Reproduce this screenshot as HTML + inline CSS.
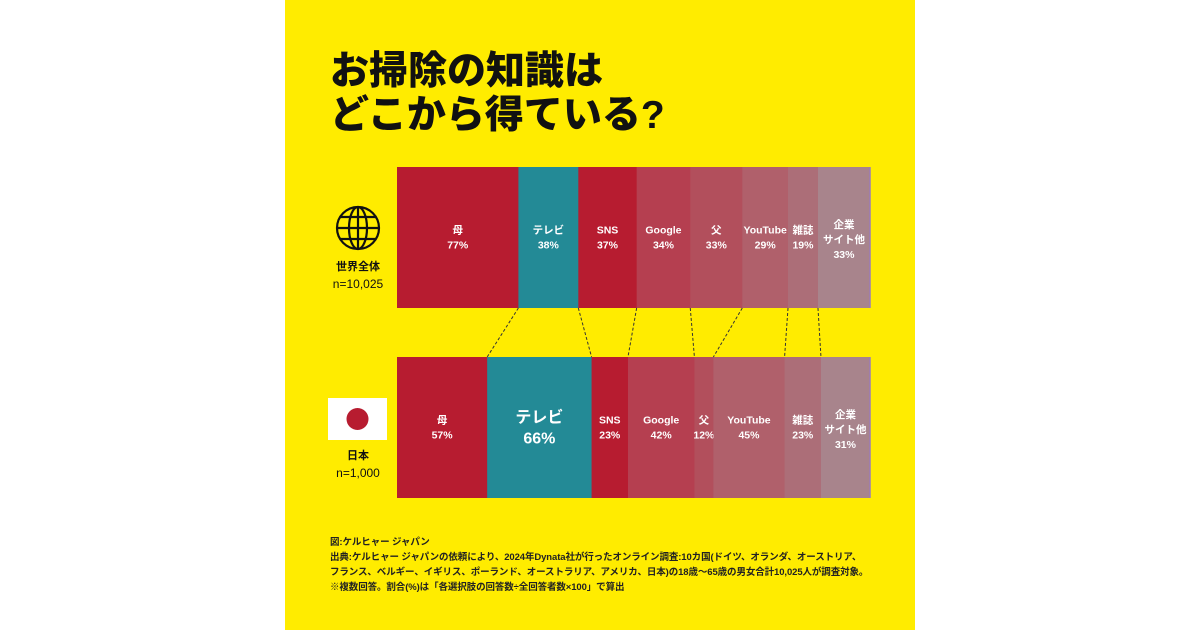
<!DOCTYPE html>
<html><head><meta charset="utf-8">
<style>
body{margin:0;width:1200px;height:630px;background:#fff;overflow:hidden;font-family:"Liberation Sans","Noto Sans CJK JP",sans-serif;}
#panel{position:absolute;left:285px;top:0;width:630px;height:630px;background:#ffec00;}
#title{position:absolute;left:330px;top:50px;font-size:39px;font-weight:900;line-height:44px;color:#111;}
.note{position:absolute;left:330px;font-size:9.5px;font-weight:bold;color:#222;white-space:nowrap;letter-spacing:-0.1px;}
svg{position:absolute;left:0;top:0;}
</style></head><body>
<div id="panel"></div>
<div id="title">お掃除の知識は<br>どこから得ている?</div>
<svg id="chart" width="1200" height="630">
  <g fill="none" stroke="#111" stroke-width="2.2">
    <circle cx="358" cy="228" r="21"/>
    <ellipse cx="358" cy="228" rx="9" ry="21"/>
    <line x1="358" y1="207" x2="358" y2="249"/>
    <line x1="337" y1="228" x2="379" y2="228"/>
    <line x1="340" y1="217" x2="376" y2="217"/>
    <line x1="340" y1="239" x2="376" y2="239"/>
  </g>
  <text x="358" y="270" text-anchor="middle" font-size="11" font-weight="bold" fill="#111">世界全体</text>
  <text x="358" y="288" text-anchor="middle" font-size="12" fill="#111">n=10,025</text>
  <g>
    <rect x="328" y="398" width="59" height="42" fill="#fff"/>
    <circle cx="357.5" cy="419" r="11" fill="#b71c30"/>
  </g>
  <text x="358" y="459" text-anchor="middle" font-size="11" font-weight="bold" fill="#111">日本</text>
  <text x="358" y="477" text-anchor="middle" font-size="12" fill="#111">n=1,000</text>
</svg>
<div class="note" style="top:534px">図:ケルヒャー ジャパン</div>
<div class="note" style="top:549px">出典:ケルヒャー ジャパンの依頼により、2024年Dynata社が行ったオンライン調査:10カ国(ドイツ、オランダ、オーストリア、</div>
<div class="note" style="top:564px">フランス、ベルギー、イギリス、ポーランド、オーストラリア、アメリカ、日本)の18歳～65歳の男女合計10,025人が調査対象。</div>
<div class="note" style="top:579px">※複数回答。割合(%)は「各選択肢の回答数÷全回答者数×100」で算出</div>
<script>
const categories=['母','テレビ','SNS','Google','父','YouTube','雑誌','企業サイト他'];
const worldValues=[77,38,37,34,33,29,19,33];
const japanValues=[57,66,23,42,12,45,23,31];
const colors=['#b71c30','#238a96','#b71c30','#b53f50','#b24f5c','#b0606b','#ac6e78','#a8848c'];
const X0=397,W=473;
const svg=document.getElementById('chart');
const NS='http://www.w3.org/2000/svg';
function xScale(vals){const s=vals.reduce((a,b)=>a+b,0);const out=[X0];let c=0;vals.forEach(v=>{c+=v;out.push(X0+c/s*W);});return out;}
function mk(t,a){const e=document.createElementNS(NS,t);for(const k in a)e.setAttribute(k,a[k]);return e;}
function drawBar(vals,y,h,key,big){
  const xs=xScale(vals);
  const g=mk('g',{});
  
  
  vals.forEach((v,i)=>{
    const r=mk('rect',{x:xs[i],y:y,width:xs[i+1]-xs[i]+0.5,height:h,fill:colors[i]});
    
    
    g.appendChild(r);
    const cx=(xs[i]+xs[i+1])/2;
    const isBig=big&&i===1;
    const fs=isBig?16:10.5;
    const lines=categories[i]==='企業サイト他'?['企業','サイト他']:[categories[i]];
    lines.push(v+'%');
    const lh=isBig?21:15;
    const startY=y+h/2-lines.length*lh/2+lh/2+(lines.length>2?2:0);
    lines.forEach((l,j)=>{
      const t=mk('text',{x:cx,y:startY+j*lh+fs*0.35,'text-anchor':'middle','font-size':fs,'font-weight':'bold',fill:'#fff'});
      t.textContent=l;
      
      
      g.appendChild(t);
    });
  });
  const e=mk('line',{x1:X0+W,y1:y,x2:X0+W,y2:y+h,stroke:'#9b7bb8','stroke-width':1.5});
  g.appendChild(e);
  svg.appendChild(g);
  return xs;
}
const tx=drawBar(worldValues,167,141,'world',false);
const bx=drawBar(japanValues,357,141,'japan',true);
for(let i=1;i<categories.length;i++){
  const l=mk('line',{x1:tx[i],y1:308,x2:bx[i],y2:357,stroke:'#333','stroke-width':1,'stroke-dasharray':'3,2'});
  
  
  svg.appendChild(l);
}
</script>
</body></html>
